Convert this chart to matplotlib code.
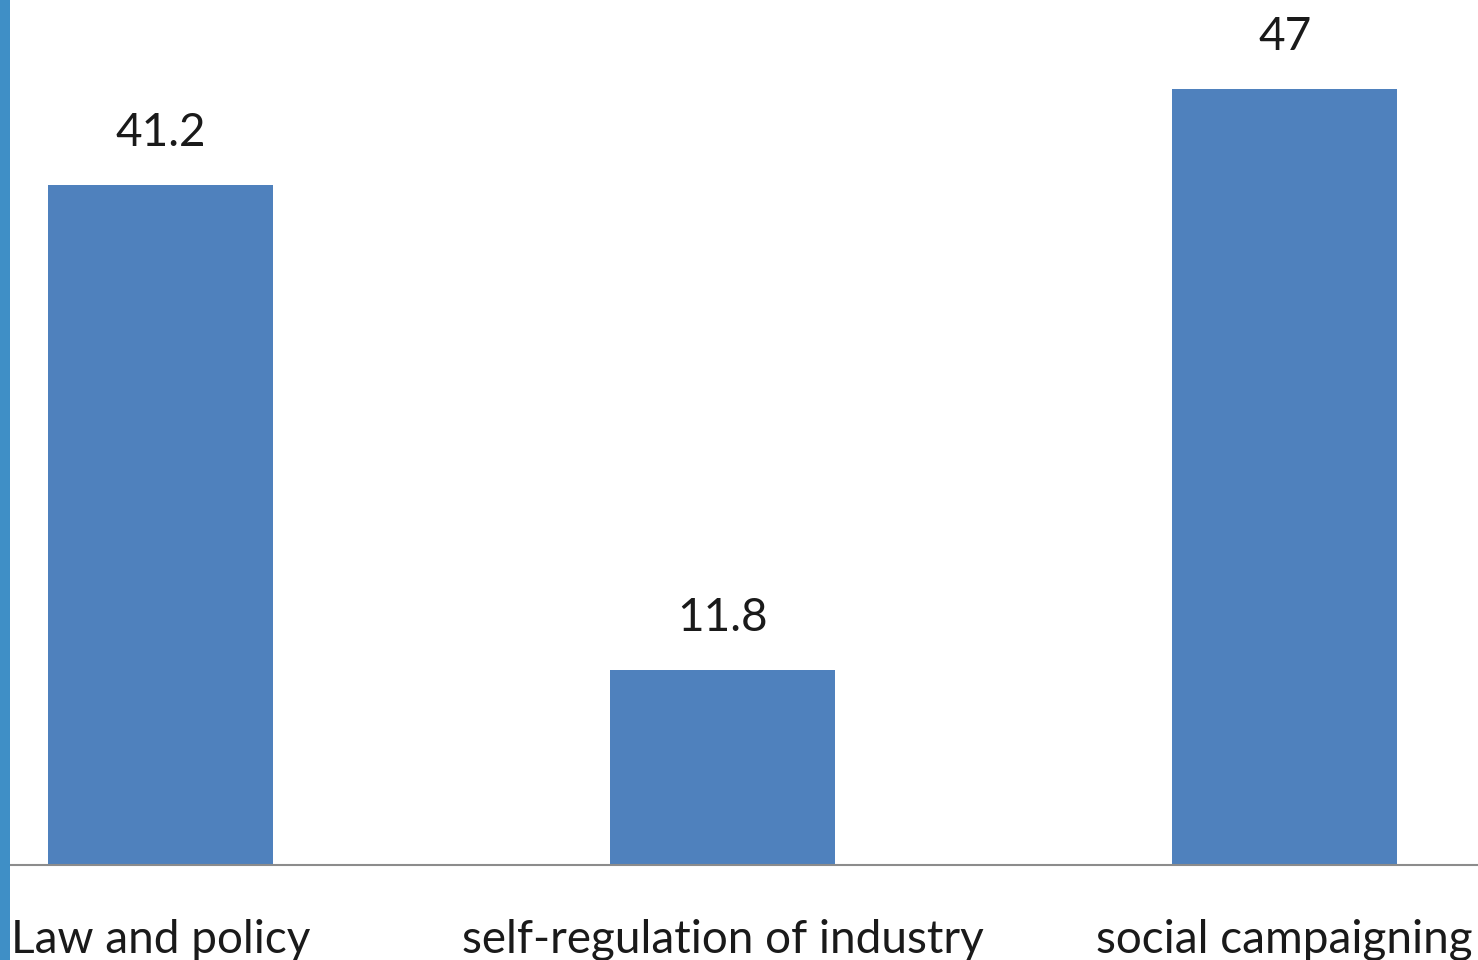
import matplotlib.pyplot as plt
from matplotlib.patches import Rectangle

categories = ["Law and policy", "self-regulation of industry", "social campaigning"]
values = [41.2, 11.8, 47]

BAR_COLOR = "#4f81bd"
FONT = "Lato"


def main():
    fig = plt.figure(figsize=(14.78, 9.6), dpi=100)
    fig.patch.set_facecolor("white")

    # thin slide-background strip along the left edge
    fig.add_artist(Rectangle((0, 0), 10 / 1478, 1, transform=fig.transFigure,
                             facecolor="#3f8fc6", edgecolor="none"))

    ax = fig.add_axes([10 / 1478, 95 / 960, 1 - 10 / 1478, 865 / 960])
    x = range(len(categories))
    bars = ax.bar(x, values, width=0.4, color=BAR_COLOR, zorder=2)

    for b, v in zip(bars, values):
        ax.annotate(f"{v:g}", (b.get_x() + b.get_width() / 2, v),
                    xytext=(0, 28), textcoords="offset points",
                    ha="center", va="baseline", fontsize=33,
                    family=FONT, color="#1a1a1a")

    ax.set_xlim(-0.268, 2.344)
    ax.set_ylim(0, 52.4)
    ax.set_xticks(list(x))
    ax.set_xticklabels(categories, fontsize=33, family=FONT, color="#1a1a1a")
    ax.tick_params(axis="x", length=0, pad=39)
    ax.set_yticks([])

    for s in ["top", "right", "left"]:
        ax.spines[s].set_visible(False)
    ax.spines["bottom"].set_color("#8c8c8c")
    ax.spines["bottom"].set_linewidth(1.5)

    fig.savefig("out.png", dpi=100)


if __name__ == "__main__":
    main()
